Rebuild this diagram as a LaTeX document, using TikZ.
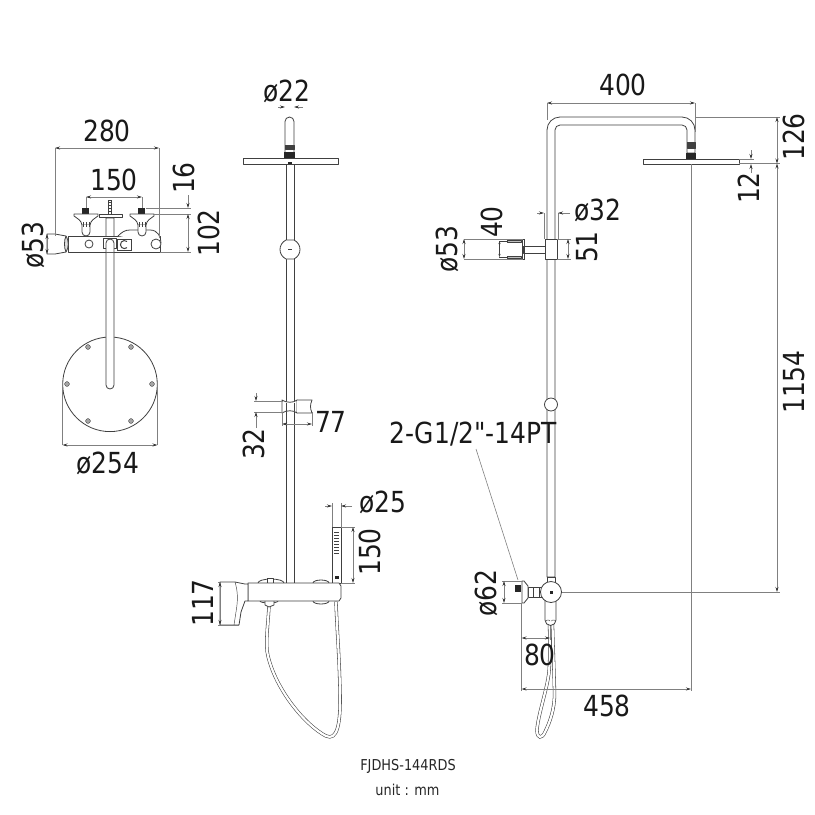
\documentclass[tikz,border=0pt]{standalone}
\usepackage{fontspec}
\newfontfamily\dimfont[FakeStretch=0.86]{DejaVu Sans}
\usetikzlibrary{arrows.meta}
\definecolor{dimgray}{gray}{0.5}
\definecolor{partgray}{gray}{0.25}
\tikzset{
  part/.style={draw=partgray, line width=0.8pt, fill=white, line join=round},
  thinpart/.style={draw=partgray, line width=0.45pt},
  hose/.style={draw=partgray, line width=0.55pt, double=white, double distance=2.2pt, line cap=round},
  solidpart/.style={fill=black!85, draw=none},
  screw/.style={fill=gray!70, draw=partgray, line width=0.4pt},
  extline/.style={draw=dimgray, line width=0.6pt},
  dimline/.style={draw=dimgray, line width=0.7pt, {Stealth[length=5pt,width=3pt,black!80]}-{Stealth[length=5pt,width=3pt,black!80]}},
  tickline/.style={draw=dimgray, line width=0.7pt, -{Stealth[length=5pt,width=3pt,black!80]}},
  dimtext/.style={font=\dimfont\fontsize{29}{29}\selectfont, text=black!90, inner sep=0pt},
  dimtextv/.style={dimtext, rotate=90},
  smalltext/.style={font=\dimfont\fontsize{15}{15}\selectfont, text=black!85, inner sep=0pt}
}
\begin{document}
\begin{tikzpicture}[x=1pt, y=-1pt]
  \useasboundingbox (0,0) rectangle (815,815);

  % top view: plate and arm
  \draw[part] (110,384.3) circle (47.3);
  \foreach \sx/\sy in {88/347, 131/347, 67/384, 152/384, 88/421, 131/421}
    \draw[screw] (\sx,\sy) circle (2.4);
  \draw[part] (106,218) -- (106,385) arc (180:0:4) -- (114,218) -- cycle;

  % top view: mixer
  \draw[part] (47,234) -- (55,234) -- (66,236) -- (66,252) -- (55,254) -- (47,254) -- cycle;
  \draw[part] (68,236) rectangle (160,252);
  \draw[part, fill=gray!25] (66,236) .. controls (69,240) and (69,248) .. (66,252) .. controls (64,248) and (64,240) .. (66,236);
  \draw[part] (118,236) .. controls (122,232) and (125,230) .. (130,230) -- (150,230) .. controls (158,230) and (161,237) .. (161,243);
  \draw[part] (89,244) circle (4);
  \draw[part] (156,244) circle (5);
  \draw[part] (103,238) rectangle (116,248);
  \draw[part] (106,252) -- (106,243) arc (180:360:4) -- (114,252);
  \draw[thinpart] (117,239) rectangle (131,250);
  \draw[thinpart, line width=1pt] (127,241.5) arc (310:50:4);
  % valves
  \foreach \vx in {86,142} {
    \fill[solidpart] (\vx-4,208) rectangle (\vx+3,214);
    \draw[part] (\vx-12,214) -- (\vx+12,214) -- (\vx+12,216) .. controls (\vx+8,219) and (\vx+5,220) .. (\vx+4,225) -- (\vx-4,225) .. controls (\vx-5,220) and (\vx-8,219) .. (\vx-12,216) -- cycle;
    \draw[part] (\vx-4,225) -- (\vx-4,232) arc (180:0:4) -- (\vx+4,225);
    \draw[thinpart] (\vx-3,222) -- (\vx-3,227) (\vx+3,222) -- (\vx+3,227) (\vx,222) -- (\vx,227);
  }
  \draw[part] (99,214) rectangle (122,217);
  \draw[thinpart] (108.5,200) rectangle (111.5,214);
  \foreach \ty in {202,205,208,211}
    \draw[thinpart, line width=0.9pt] (108.5,\ty) -- (111.5,\ty);

  % side view
  \draw[part] (285,158) -- (285,121.5) arc (180:360:4.5) -- (294,158);
  \draw[part, fill=black!75] (285,145) rectangle (294,149);
  \fill[solidpart] (284,152) rectangle (295,158);
  \draw[part] (286,164) rectangle (294,584);
  \draw[part] (243,158) rectangle (338,164);
  \fill[solidpart] (288,162) rectangle (292,164);
  \draw[part] (286,240) -- (294,240) .. controls (302,244) and (302,255) .. (294,259) -- (286,259) .. controls (278,255) and (278,244) .. (286,240) -- cycle;
  \fill[partgray] (288,249) rectangle (292,250);
  % sliding holder
  \draw[part] (282,400) .. controls (286,403) and (294,403) .. (297,400) -- (297,413) .. controls (294,410) and (286,410) .. (282,413) -- cycle;
  \draw[part] (297,400) -- (312,400) .. controls (310,405) and (310,408) .. (312,413) -- (297,413);
  \draw[thinpart] (286,402.5) -- (286,410.5) (294,402.5) -- (294,410.5);
  % side view: hose and hand shower
  \draw[hose] (269,606) .. controls (268,625) and (265,645) .. (268,656) .. controls (276,690) and (305,725) .. (326,736) .. controls (337,741) and (341,725) .. (340,690) .. controls (339,650) and (337,630) .. (336,602);
  \draw[part] (332,527) rectangle (341,583);
  \foreach \ty in {532,535,...,553}
    \draw[thinpart] (334,\ty) -- (339,\ty);
  \fill[solidpart] (335,576) rectangle (339,579);
  % side view: mixer
  \draw[part] (313,583) arc (180:360:8 and 3);
  \draw[part] (313,601) arc (180:0:8 and 3);
  \draw[part] (258,583) arc (180:360:13 and 4);
  \draw[part] (267,583) -- (267,578) -- (273,578) -- (273,583);
  \draw[part] (260,601) arc (180:0:9 and 2);
  \draw[part] (265,601) -- (265,605) -- (269,607) -- (274,605) -- (274,601);
  \draw[part] (248,583) -- (339,583) -- (341,586) -- (341,598) -- (339,601) -- (248,601) -- cycle;
  \draw[part] (220,582) -- (235,582) -- (245,584) -- (248,584) -- (248,601) -- (245,601) -- (241,612) -- (239,625) -- (220,625) -- cycle;
  \draw[thinpart] (235,582) .. controls (238,592) and (238,600) .. (236,612) -- (234,625);

  % front view
  \draw[part] (547,577) -- (547,130) arc (180:270:13) -- (682,117) arc (270:360:13) -- (695,153) -- (687,153) -- (687,130) arc (360:270:5) -- (560,125) arc (270:180:5) -- (555,577) -- cycle;
  \draw[part, fill=black!75] (687,142) rectangle (695,148);
  \fill[solidpart] (686,153) rectangle (696,159);
  \draw[part] (643,159) rectangle (739,164);
  \draw[part] (551,404.5) circle (6.5);
  % wall holder
  \draw[part] (523,246) rectangle (545,253);
  \draw[part] (545,239) rectangle (557,259);
  \draw[thinpart] (522,239) rectangle (524,259);
  \draw[part, fill=gray!50] (507,240) rectangle (521,242.5);
  \draw[part, fill=gray!50] (507,256) rectangle (521,258.5);
  \draw[thinpart] (499,241) -- (507,241) (499,257) -- (507,257);
  \draw[thinpart, {Stealth[length=3pt,width=2pt]}-{Stealth[length=3pt,width=2pt]}] (499.5,241) -- (499.5,257);
  % front view: mixer
  \draw[part] (547,577) rectangle (555,582);
  \draw[hose] (549.5,625) .. controls (550,645) and (550,660) .. (549,672) .. controls (547,690) and (538,715) .. (537,730) .. controls (537,739) and (542,739) .. (545,732) .. controls (550,722) and (555,708) .. (554.5,692) .. controls (554,670) and (553,645) .. (552.5,625);
  \draw[part] (545,598) -- (545,620) arc (180:0:5.5) -- (556,598) -- cycle;
  \draw[part] (533,587) rectangle (542,597);
  \draw[thinpart] (539,587) -- (539,597);
  \draw[part] (528,587) rectangle (533,597);
  \draw[part] (522,581) -- (524,581) -- (528,586) -- (528,598) -- (524,603) -- (522,603) -- cycle;
  \draw[part] (551,592) circle (10.5);
  \fill[solidpart] (549.5,590.5) rectangle (552.5,593.5);
  \fill[solidpart] (515,585) rectangle (521,592);
  \draw[thinpart] (546,621) arc (180:360:2 and 1) (551.5,621) arc (180:360:2 and 1);

  % dimensions: top view
  \draw[dimline] (55,148) -- (159,148);
  \draw[extline] (55,148) -- (55,236) (159,148) -- (159,238);
  \node[dimtext] (dimwidth) at (107,131) {280};
  \draw[dimline] (86,197) -- (142,197);
  \draw[extline] (86,197) -- (86,208) (142,197) -- (142,208);
  \node[dimtext] (dimvalves) at (114,180) {150};
  \draw[extline] (146,208) -- (191,208) (154,214) -- (191,214) (160,252) -- (191,252);
  \draw[tickline] (188,195) -- (188,208);
  \draw[dimline] (188,214) -- (188,252);
  \node[dimtextv] (dimknob) at (184,178) {16};
  \node[dimtextv] (dimdepth) at (209,233) {102};
  \draw[dimline] (47,234) -- (47,254);
  \node[dimtextv] (dimspout) at (33,245) {ø53};
  \draw[extline] (62.5,384) -- (62.5,445) (157.5,384) -- (157.5,445);
  \draw[dimline] (62.5,445) -- (157.5,445);
  \node[dimtext] (dimplate) at (108,463) {ø254};

  % dimensions: side view
  \draw[tickline] (278,107) -- (285,107);
  \draw[tickline] (303,107) -- (294,107);
  \node[dimtext] (dimarm) at (287,91) {ø22};
  \draw[extline] (254,401) -- (283,401) (254,412) -- (283,412);
  \draw[tickline] (256,393) -- (256,401);
  \draw[tickline] (256,428) -- (256,412);
  \node[dimtextv] (dimholder) at (254,444) {32};
  \draw[dimline] (282,424) -- (312,424);
  \draw[extline] (282,412) -- (282,426) (312,412) -- (312,426);
  \node[dimtext] (dimreach) at (331,422) {77};
  \draw[extline] (332,503) -- (332,527) (341,503) -- (341,527);
  \draw[tickline] (325,506) -- (332,506);
  \draw[tickline] (352,506) -- (341,506);
  \node[dimtext] (dimhandle) at (383,502) {ø25};
  \draw[extline] (341,527) -- (355,527) (341,583) -- (355,583);
  \draw[dimline] (353,527) -- (353,583);
  \node[dimtextv] (dimhand) at (370,552) {150};
  \draw[extline] (218,582) -- (221,582) (218,625) -- (239,625);
  \draw[dimline] (220,582) -- (220,625);
  \node[dimtextv] (dimmixer) at (203,603) {117};

  % dimensions: front view
  \draw[dimline] (547,103) -- (695,103);
  \draw[extline] (547,103) -- (547,120) (695,103) -- (695,132);
  \node[dimtext] (dimspan) at (623,85) {400};
  \draw[extline] (695,117) -- (780,117) (739,163.5) -- (780,163.5) (739,159) -- (754,159);
  \draw[dimline] (777,117) -- (777,163.5);
  \node[dimtextv] (dimtop) at (794,137) {126};
  \draw[tickline] (751,150) -- (751,159);
  \draw[tickline] (751,173) -- (751,164);
  \node[dimtextv] (dimhead) at (749,188) {12};
  \draw[extline] (562,592) -- (780,592);
  \draw[dimline] (777,163.5) -- (777,592);
  \node[dimtextv] (dimheight) at (794,382) {1154};
  \draw[extline] (691,164) -- (691,691);
  \draw[extline] (464,239) -- (523,239) (464,259) -- (523,259);
  \draw[dimline] (464,239) -- (464,259);
  \node[dimtextv] (dimmount) at (447,249) {ø53};
  \node[dimtextv] (dimclip) at (492,222) {40};
  \draw[extline] (544,213) -- (544,239) (558,213) -- (558,239);
  \draw[tickline] (537,213) -- (544,213);
  \draw[tickline] (570,213) -- (558,213);
  \node[dimtext] (dimrail) at (598,210) {ø32};
  \draw[extline] (557,239) -- (571,239) (557,259) -- (571,259);
  \draw[dimline] (568,239) -- (568,259);
  \node[dimtextv] (dimblock) at (587,247) {51};
  \draw[extline] (502,581) -- (522,581) (502,603) -- (522,603);
  \draw[dimline] (504,581) -- (504,603);
  \node[dimtextv] (dimnut) at (486,593) {ø62};
  \draw[extline] (521.5,603) -- (521.5,691) (550,626) -- (550,640);
  \draw[dimline] (521.5,638) -- (550,638);
  \node[dimtext] (dimoffset) at (540,655) {80};
  \draw[dimline] (521.5,689) -- (691,689);
  \node[dimtext] (dimwall) at (607,706) {458};
  \node[dimtext] (thread) at (473,434) {2-G1/2"-14PT};
  \coordinate (threadend) at (518,580);
  \draw[extline] (476,449) -- (threadend);

  % caption
  \node[smalltext] (model) at (408,766) {FJDHS-144RDS};
  \node[smalltext] (unit) at (407.5,790) {unit : mm};
\end{tikzpicture}
\end{document}
